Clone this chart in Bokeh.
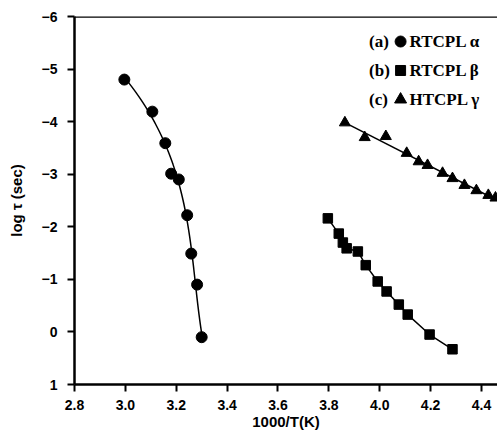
import numpy as np
from bokeh.plotting import figure
from bokeh.models import Range1d, FixedTicker, PrintfTickFormatter, Span, Label
from bokeh.embed import file_html
from bokeh.resources import INLINE

# --- data (1000/T in 1/K, log tau in sec) ---
alpha_x = [2.996, 3.106, 3.157, 3.180, 3.210, 3.243, 3.259, 3.282, 3.300]
alpha_y = [-4.80, -4.19, -3.59, -3.01, -2.90, -2.22, -1.49, -0.90, 0.10]

beta_x = [3.796, 3.839, 3.855, 3.870, 3.914, 3.945, 3.992, 4.027, 4.075, 4.110, 4.196, 4.286]
beta_y = [-2.16, -1.87, -1.70, -1.59, -1.53, -1.27, -0.96, -0.77, -0.52, -0.33, 0.05, 0.33]

gamma_x = [3.863, 3.941, 4.024, 4.106, 4.153, 4.188, 4.247, 4.286, 4.333, 4.380, 4.427, 4.455]
gamma_y = [-3.98, -3.70, -3.72, -3.40, -3.24, -3.17, -3.02, -2.92, -2.79, -2.69, -2.60, -2.55]

x_ticks = [2.8, 3.0, 3.2, 3.4, 3.6, 3.8, 4.0, 4.2, 4.4]
y_ticks = [-6, -5, -4, -3, -2, -1, 0, 1]

legend_labels = ["RTCPL \u03b1", "RTCPL \u03b2", "HTCPL \u03b3"]
legend_tags = ["(a)", "(b)", "(c)"]

p = figure(width=497, height=440, output_backend="svg", toolbar_location=None,
           x_range=Range1d(2.8, 4.463), y_range=Range1d(1, -6),
           min_border_left=74, min_border_right=0, min_border_top=16, min_border_bottom=56)
p.outline_line_color = None
p.xgrid.visible = False
p.ygrid.visible = False
p.background_fill_color = "white"

for ax in (p.xaxis[0], p.yaxis[0]):
    ax.axis_line_width = 2.5
    ax.axis_line_color = "black"
    ax.major_tick_line_width = 2
    ax.major_tick_out = 7
    ax.major_tick_in = 0
    ax.minor_tick_out = 0
    ax.minor_tick_in = 0
    ax.major_label_text_font = "Liberation Sans"
    ax.major_label_text_font_style = "bold"
    ax.major_label_text_font_size = "14px"
    ax.major_label_text_color = "black"
    ax.axis_label_text_font = "Liberation Sans"
    ax.axis_label_text_font_style = "bold"
    ax.axis_label_text_font_size = "15px"
    ax.axis_label_text_color = "black"

p.xaxis[0].ticker = FixedTicker(ticks=x_ticks)
p.xaxis[0].formatter = PrintfTickFormatter(format="%.1f")
p.xaxis[0].major_label_standoff = 8
p.xaxis[0].axis_label = "1000/T(K)"
p.xaxis[0].axis_label_standoff = 0

p.yaxis[0].ticker = FixedTicker(ticks=y_ticks)
p.yaxis[0].major_label_standoff = 10
p.yaxis[0].axis_label = "log \u03c4 (sec)"
p.yaxis[0].axis_label_standoff = 14

# top border line
p.add_layout(Span(location=-6, dimension="width", line_color="black", line_width=2.5))

# alpha: smooth fit curve (x as cubic function of y)
ay = np.array(alpha_y)
ax_ = np.array(alpha_x)
coef = np.polyfit(ay, ax_, 3)
yy = np.linspace(ay.min(), ay.max(), 80)
p.line(np.polyval(coef, yy), yy, line_color="black", line_width=1.5)
p.scatter(alpha_x, alpha_y, marker="circle", size=11, color="black")

# beta
p.line(beta_x, beta_y, line_color="black", line_width=1.5)
p.scatter(beta_x, beta_y, marker="square", size=9.5, color="black")

# gamma: linear fit line
gx = np.array(gamma_x)
gy = np.array(gamma_y)
k, b = np.polyfit(gx, gy, 1)
fx = np.array([gx.min(), gx.max()])
p.line(fx, k * fx + b, line_color="black", line_width=1.5)
p.scatter(gamma_x, gamma_y, marker="triangle", size=11, color="black")

# legend (manual)
leg_y = [-5.524, -4.973, -4.421]
markers = ["circle", "square", "triangle"]
msizes = [11, 10, 12]
for i in range(3):
    p.add_layout(Label(x=3.958, y=leg_y[i], text=legend_tags[i], text_font="Liberation Serif",
                       text_font_style="bold", text_font_size="17px", text_baseline="middle",
                       text_color="black"))
    p.scatter([4.082], [leg_y[i]], marker=markers[i], size=msizes[i], color="black")
    p.add_layout(Label(x=4.117, y=leg_y[i], text=legend_labels[i], text_font="Liberation Serif",
                       text_font_style="bold", text_font_size="17px", text_baseline="middle",
                       text_color="black"))

open("out.html", "w").write(file_html(p, INLINE))
